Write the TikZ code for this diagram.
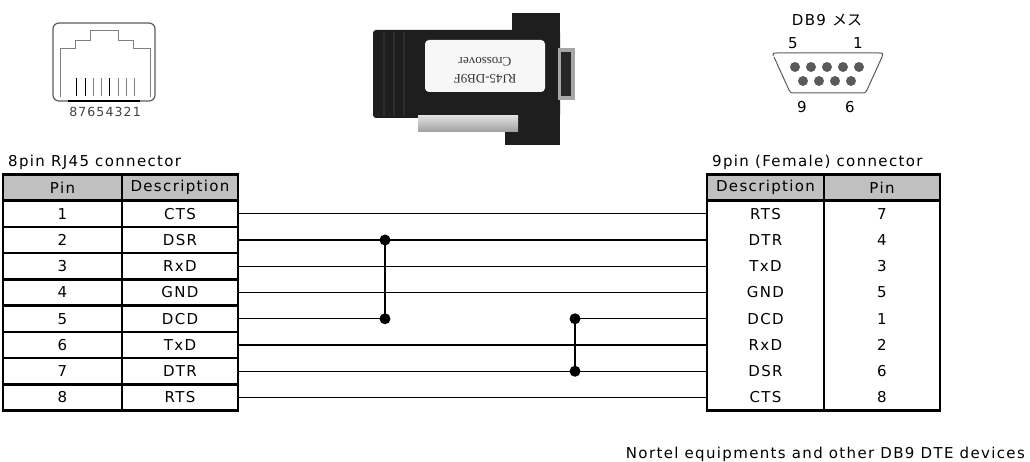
\documentclass[tikz,border=0pt]{standalone}
\usepackage{fontspec}
\setmainfont{DejaVu Sans}[LetterSpace=9]
\newfontfamily\jpfont{Noto Sans CJK JP}
\newfontfamily\stickerfont{Liberation Serif}
\usetikzlibrary{positioning, calc}
\definecolor{headgray}{RGB}{192,192,192}
\definecolor{bodyblack}{RGB}{30,30,30}
\definecolor{pingray}{RGB}{90,90,90}
\tikzstyle{txt} = [font=\fontsize{15}{17}\selectfont, inner sep=0pt]
\tikzstyle{cell} = [txt, line width=2.5pt, minimum height=26.25pt, outer sep=0pt]
\tikzstyle{pincell} = [cell, draw, minimum width=119pt]
\tikzstyle{desccell} = [cell, draw, minimum width=116pt]
\tikzstyle{wire} = [line width=1.4pt]
\tikzstyle{joint} = [circle, fill, inner sep=0pt, minimum size=11pt]
\begin{document}
\begin{tikzpicture}[x=1pt,y=-1pt]
        \useasboundingbox (0,0) rectangle (1030,462);

        % RJ45 jack
        \draw[pingray, line width=1.2pt, rounded corners=6pt] (53,23) rectangle (155,101);
        \draw[gray, line width=1pt] (60,97) -- (60,49) -- (75,49) -- (75,41) -- (90,41) -- (90,31) -- (118,31) -- (118,41) -- (133,41) -- (133,49) -- (150,49) -- (150,97);
        \draw[black, line width=1.8pt] (68,101) -- (140,101);
        \foreach \x/\c in {76/black,85/black,93/gray,101/gray,109/black,118/gray,126/gray,134/gray}
          \draw[\c, line width=1pt] (\x,78) -- (\x,96);
        \node (rjnum) [font=\fontsize{12.5}{13}\selectfont, text=black!75] at (105,112) {87654321};

        % adapter photo
        \fill[bodyblack, rounded corners=3pt] (373,30) rectangle (560,118);
        \fill[bodyblack] (512,13) rectangle (560,36);
        \fill[bodyblack] (505,100) rectangle (560,145);
        \fill[gray!70] (558,48) rectangle (575,100);
        \fill[gray!30!black] (561,52) rectangle (571,96);
        \foreach \x in {384,394,404}
          \draw[gray!35!black, line width=2pt] (\x,32) -- (\x,116);
        \shade[top color=gray!25, bottom color=gray!75] (418,116) rectangle (518,132);
        \fill[white!94!gray, rounded corners=4pt] (425,40) rectangle (545,92);
        \node (sticker) [rotate=180, font=\stickerfont\fontsize{13}{17}\selectfont, align=center, text=black!80] at (485,70) {RJ45-DB9F\\Crossover};

        % DB9 female
        \node (dbname) [txt] at (827,20) {DB9 {\jpfont メス}};
        \node (db5) [txt] at (793,43) {5};
        \node (db1) [txt] at (858,43) {1};
        \node (db9) [txt] at (802,107) {9};
        \node (db6) [txt] at (850,107) {6};
        \draw[pingray, line width=1pt] (773,56) .. controls (773,53) .. (777,53) -- (879,53) .. controls (883,53) .. (882,57) -- (867,90) .. controls (865,93) .. (862,93) -- (794,93) .. controls (791,93) .. (789,90) -- (774,57);
        \foreach \x in {795,811,827,843,859}
          \fill[pingray] (\x,67) circle (5);
        \foreach \x in {803,819,835,851}
          \fill[pingray] (\x,81) circle (5);

        % 8pin RJ45 table
        \node (lcap) [txt, anchor=base west] at (8,167) {8pin RJ45 connector};
        \node (lpinh) [pincell, fill=headgray] at (62.5,187.5) {Pin};
        \node (ldesch) [desccell, fill=headgray, right=0pt of lpinh] {Description};
        \foreach \d [count=\i] in {CTS,DSR,RxD,GND,DCD,TxD,DTR,RTS} {
          \node (lpin\i) [pincell] at (62.5,{187.5+26.25*\i}) {\i};
          \node (ldesc\i) [desccell, right=0pt of lpin\i] {\d};
        }

        % 9pin female table
        \node (rcap) [txt, anchor=base west] at (712,167) {9pin (Female) connector};
        \node (rdesch) [desccell, fill=headgray, minimum width=117pt] at (765.5,187.5) {Description};
        \node (rpinh) [desccell, fill=headgray, right=0pt of rdesch] {Pin};
        \foreach \d/\p [count=\i] in {RTS/7,DTR/4,TxD/3,GND/5,DCD/1,RxD/2,DSR/6,CTS/8} {
          \node (rdesc\i) [cell, minimum width=117pt] at (765.5,{187.5+26.25*\i}) {\d};
          \node (rpin\i) [cell, minimum width=116pt, right=0pt of rdesc\i] {\p};
        }
        \draw[line width=2.5pt] (rdesc1.north west) rectangle (rpin8.south east);
        \draw[line width=2.5pt] (rdesc1.north east) -- (rdesc8.south east);

        % wiring
        \foreach \i in {1,2,3,4,6,7,8}
          \draw[wire] (ldesc\i.east) -- (rdesc\i.west);
        \coordinate (j1x) at (385,0);
        \coordinate (j2x) at (575,0);
        \coordinate (ja) at (ldesc2.east -| j1x);
        \coordinate (jb) at (ldesc5.east -| j1x);
        \coordinate (jc) at (rdesc5.west -| j2x);
        \coordinate (jd) at (rdesc7.west -| j2x);
        \draw[wire] (ldesc5.east) -- (jb) -- (ja);
        \draw[wire] (rdesc5.west) -- (jc) -- (jd);
        \foreach \j in {ja,jb,jc,jd}
          \node (dot\j) [joint] at (\j) {};

        \node (note) [txt, anchor=base east] at (1025,458) {Nortel equipments and other DB9 DTE devices};
\end{tikzpicture}
\end{document}
